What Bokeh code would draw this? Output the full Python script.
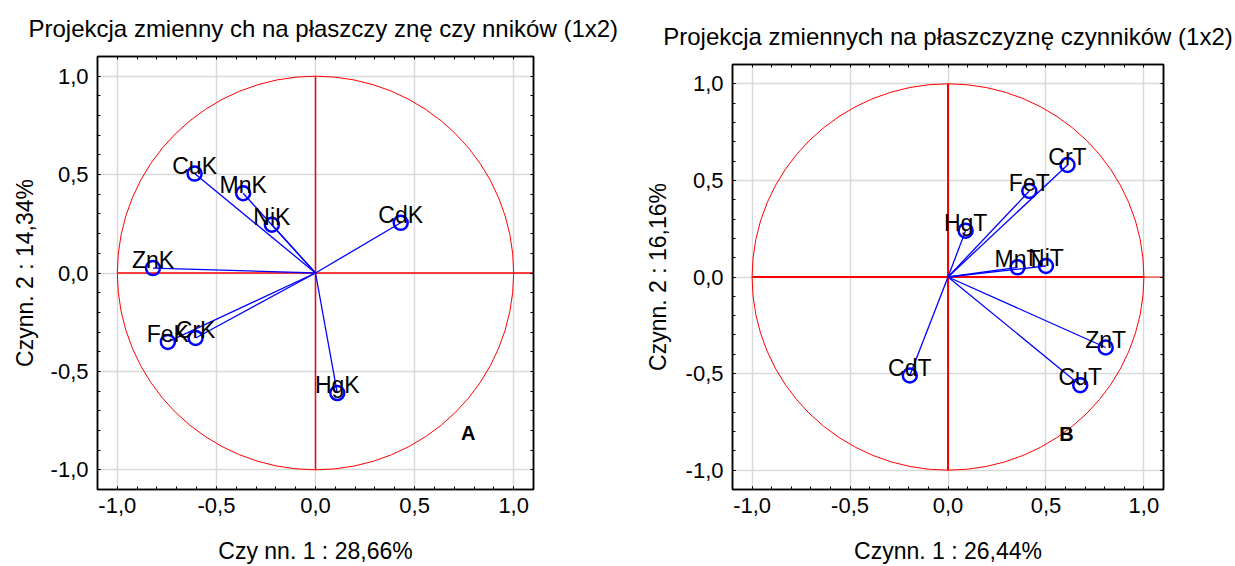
import numpy as np
from bokeh.plotting import figure
from bokeh.layouts import row
from bokeh.models import (LinearAxis, SingleIntervalTicker, FixedTicker,
                          CustomJSTickFormatter, Range1d, ColumnDataSource, Label)
from bokeh.core.properties import value
from bokeh.embed import file_html
from bokeh.resources import INLINE

# Factor loadings of the soil (K) variables
k_names = ["CuK", "MnK", "NiK", "ZnK", "CdK", "FeK", "CrK", "HgK"]
k_f1 = [-0.61, -0.365, -0.22, -0.82, 0.43, -0.745, -0.605, 0.11]
k_f2 = [0.505, 0.405, 0.245, 0.025, 0.255, -0.35, -0.33, -0.61]

# Factor loadings of the tissue (T) variables
t_names = ["CrT", "FeT", "HgT", "MnT", "NiT", "ZnT", "CuT", "CdT"]
t_f1 = [0.61, 0.415, 0.09, 0.355, 0.50, 0.805, 0.675, -0.195]
t_f2 = [0.58, 0.445, 0.24, 0.05, 0.057, -0.365, -0.56, -0.51]

FONT = "Liberation Sans"
BLUE = "#0000ff"
RED = "#ff0000"

fmt = CustomJSTickFormatter(code="""
    const v = Math.abs(tick) < 1e-9 ? 0 : tick;
    return v.toFixed(1).replace('.', ',');
""")

# tick marks every 0.1 along the unlabelled top and right edges
edge_ticks = list(np.round(np.arange(-11, 12) / 10, 1))


def style_axis(ax, labelled):
    if labelled:
        ax.ticker = SingleIntervalTicker(interval=0.5, num_minor_ticks=5)
        ax.formatter = fmt
        ax.major_label_text_font_size = "22px"
        ax.major_label_text_color = "black"
        ax.major_label_text_font = FONT
    else:
        ax.ticker = FixedTicker(ticks=[], minor_ticks=edge_ticks)
        ax.major_label_standoff = 0
    ax.major_tick_in = 3
    ax.major_tick_out = 0
    ax.minor_tick_in = 3
    ax.minor_tick_out = 0
    ax.major_tick_line_color = "black"
    ax.minor_tick_line_color = "black"
    ax.axis_line_color = "black"
    ax.axis_line_width = 1.5
    ax.axis_label_text_font = FONT
    ax.axis_label_text_font_style = "normal"
    ax.axis_label_text_font_size = "23px"
    ax.axis_label_text_color = "black"


def panel(names, f1, f2, title, title_align, title_shift,
          xlabel, ylabel, tag, tag_xy,
          width, height, borders, margin, ylabel_gap, red_w, tail_alpha):
    bl, br, bt, bb = borders
    p = figure(width=width, height=height, margin=margin,
               x_range=Range1d(-1.1, 1.1), y_range=Range1d(-1.1, 1.1),
               output_backend="svg", toolbar_location=None,
               min_border_left=bl, min_border_right=br,
               min_border_top=bt, min_border_bottom=bb,
               title=title)
    p.title.text_font = FONT
    p.title.text_font_size = "24px"
    p.title.text_font_style = "normal"
    p.title.text_color = "black"
    p.title.align = title_align
    p.title.vertical_align = "top"
    p.title.standoff = 26
    p.title.offset = title_shift

    p.outline_line_color = "black"
    p.outline_line_width = 1.5
    p.background_fill_color = "white"
    p.border_fill_color = "white"

    style_axis(p.xaxis[0], True)
    style_axis(p.yaxis[0], True)
    p.xaxis[0].axis_label = xlabel
    p.yaxis[0].axis_label = ylabel
    p.xaxis[0].major_label_standoff = 8
    p.yaxis[0].major_label_standoff = 9
    p.xaxis[0].axis_label_standoff = 22
    p.yaxis[0].axis_label_standoff = ylabel_gap

    top = LinearAxis()
    right = LinearAxis()
    style_axis(top, False)
    style_axis(right, False)
    p.add_layout(top, "above")
    p.add_layout(right, "right")

    for g in (p.xgrid[0], p.ygrid[0]):
        g.ticker = SingleIntervalTicker(interval=0.5)
        g.grid_line_color = "#d9d9d9"
        g.grid_line_width = 1.5

    # unit circle and the red reference axes
    p.ellipse(x=0, y=0, width=2, height=2, fill_color=None,
              line_color=RED, line_width=1)
    p.segment(x0=[-1, 0], y0=[0, -1], x1=[1, 0], y1=[0, 1],
              line_color=RED, line_width=red_w)
    p.segment(x0=[1], y0=[0], x1=[1.1], y1=[0],
              line_color=RED, line_alpha=tail_alpha, line_width=red_w)

    src = ColumnDataSource(dict(x=f1, y=f2, name=names,
                                x0=[0] * len(f1), y0=[0] * len(f1)))
    p.segment(x0="x0", y0="y0", x1="x", y1="y", source=src,
              line_color=BLUE, line_width=1.3)
    p.scatter(x="x", y="y", source=src, marker="circle", size=14,
              fill_color=None, line_color=BLUE, line_width=2.5)
    p.text(x="x", y="y", text="name", source=src,
           text_align="center", text_baseline="alphabetic", y_offset=-8,
           text_font=value(FONT), text_font_size="23px", text_color="black")

    p.add_layout(Label(x=tag_xy[0], y=tag_xy[1], text=tag,
                       text_font=FONT, text_font_size="20px",
                       text_font_style="bold", text_align="center",
                       text_baseline="middle", text_color="black"))
    return p


p1 = panel(k_names, k_f1, k_f2,
           "Projekcja zmienny ch na płaszczy znę czy nników (1x2)", "left", -69,
           "Czy nn. 1 : 28,66%", "Czynn. 2 : 14,34%",
           "A", (0.77, -0.815), 625, 566, (97, 92, 56, 74), (0, 0, 0, 0), 10,
           1.5, 1.0)
p2 = panel(t_names, t_f1, t_f2,
           "Projekcja zmiennych na płaszczyznę czynników (1x2)", "center", 0,
           "Czynn. 1 : 26,44%", "Czynn. 2 : 16,16%",
           "B", (0.605, -0.815), 610, 558, (107, 72, 56, 74), (8, 0, 0, 0), 12,
           2, 0.45)

layout = row(p1, p2)
open("out.html", "w").write(file_html(layout, INLINE))
